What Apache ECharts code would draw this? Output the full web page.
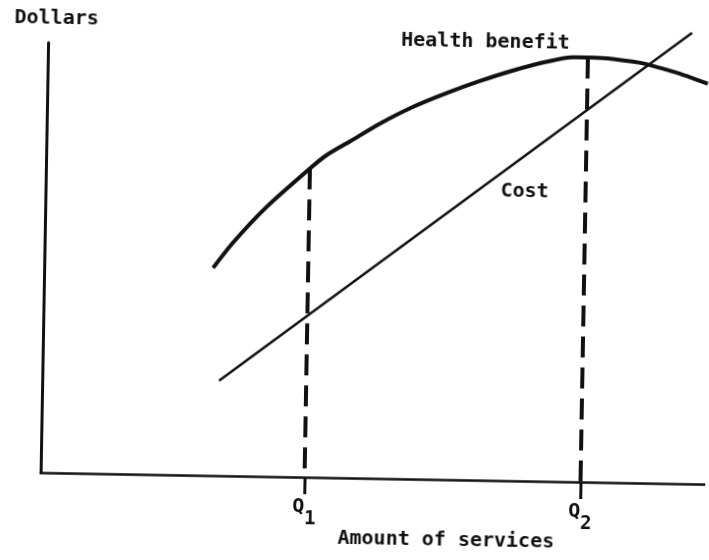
<!DOCTYPE html>
<html>
<head>
<meta charset="utf-8">
<title>Health benefit and cost</title>
<script src="https://cdn.jsdelivr.net/npm/echarts@6/dist/echarts.min.js"></script>
<style>
  html, body { margin: 0; padding: 0; background: #fff; overflow: hidden; }
  /* the scan is tilted by about one degree */
  #chart { width: 709px; height: 560px; transform: rotate(1deg); transform-origin: 50% 50%; }
</style>
</head>
<body>
<div id="chart"></div>
<script>
// amount of services (x) and dollars (y), arbitrary units 0..100
const benefitX = [25.4, 28.3, 33.3, 40.0, 42.2, 45.7, 50.1, 55.0, 60.1, 65.0, 70.0, 75.1, 79.0, 82.0, 89.1, 92.1, 95.1, 99.3]
const benefitY = [48.3, 54.2, 62.7, 72.2, 75.0, 78.3, 82.5, 86.5, 89.9, 92.8, 95.4, 97.6, 98.7, 98.7, 97.7, 96.6, 95.3, 93.1]
const costX = [26.6, 96.8]
const costY = [22.1, 104.9]
const qValues = [39.7, 81.2]
const qTops = [71.8, 98.7]
const qLabels = ['1', '2']

const ink = '#111'
const font = '"DejaVu Sans Mono", "Liberation Mono", monospace'
const textFont = 'bold 20px ' + font

const chart = echarts.init(document.getElementById('chart'))

const pairs = (xs, ys) => xs.map((x, i) => [x, ys[i]])

const dropLines = qValues.map((q, i) => [
  { coord: [q, qTops[i]] },
  { coord: [q, 0] }
])

const option = {
  animation: false,
  backgroundColor: '#fff',
  grid: { left: 44, right: 0, top: 48, bottom: 82 },
  xAxis: {
    type: 'value',
    min: 0,
    max: 100,
    splitLine: { show: false },
    axisLine: { show: true, lineStyle: { color: ink, width: 2.5 } },
    axisTick: {
      show: true,
      customValues: qValues,
      length: 17,
      lineStyle: { color: ink, width: 3 }
    },
    axisLabel: {
      show: true,
      customValues: qValues,
      margin: 20,
      formatter: (v) => {
        const i = qValues.indexOf(v)
        return i < 0 ? '' : '{q|Q}{s|' + qLabels[i] + '}'
      },
      rich: {
        q: { fontFamily: font, fontWeight: 'bold', fontSize: 20, color: ink, lineHeight: 20, verticalAlign: 'top' },
        s: { fontFamily: font, fontWeight: 'bold', fontSize: 19, color: ink, lineHeight: 32, verticalAlign: 'bottom' }
      }
    }
  },
  yAxis: {
    type: 'value',
    min: 0,
    max: 100,
    splitLine: { show: false },
    axisLine: { show: true, lineStyle: { color: ink, width: 3 } },
    axisTick: { show: false },
    axisLabel: { show: false }
  },
  graphic: [
    { type: 'text', left: 10, top: 14, style: { text: 'Dollars', font: textFont, fill: ink } },
    { type: 'text', left: 397, top: 30, style: { text: 'Health benefit', font: textFont, fill: ink } },
    { type: 'text', left: 499, top: 179, style: { text: 'Cost', font: textFont, fill: ink } },
    { type: 'text', left: 342, top: 529, style: { text: 'Amount of services', font: textFont, fill: ink } }
  ],
  series: [
    {
      name: 'Health benefit',
      type: 'line',
      data: pairs(benefitX, benefitY),
      smooth: 0.25,
      symbol: 'none',
      clip: false,
      lineStyle: { color: ink, width: 4 },
      markLine: {
        silent: true,
        symbol: ['none', 'none'],
        label: { show: false },
        lineStyle: { color: ink, width: 4, type: [21, 10] },
        data: dropLines
      }
    },
    {
      name: 'Cost',
      type: 'line',
      data: pairs(costX, costY),
      symbol: 'none',
      clip: false,
      lineStyle: { color: ink, width: 2.5 }
    }
  ]
}

chart.setOption(option)
</script>
</body>
</html>
